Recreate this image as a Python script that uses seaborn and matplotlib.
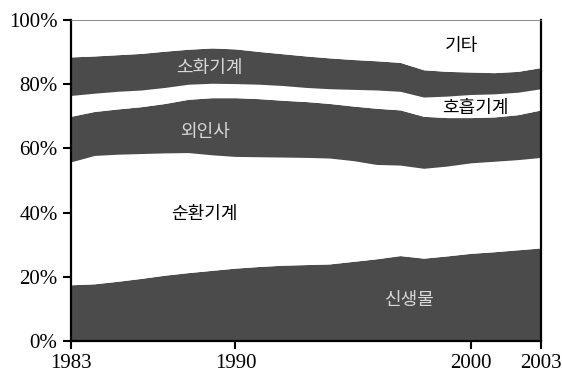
import numpy as np
import seaborn as sns
import matplotlib.pyplot as plt

sns.set_style("ticks")
plt.rcParams['font.family'] = ['Liberation Serif', 'Noto Sans CJK KR', 'DejaVu Sans']

years = list(range(1983, 2004))

# shares (%) by cause of death
neoplasm = [17.5, 17.8, 18.6, 19.5, 20.5, 21.3, 22.0, 22.7, 23.2, 23.6, 23.8,
            24.0, 24.8, 25.6, 26.6, 25.8, 26.5, 27.3, 27.8, 28.4, 29.0]
circulatory = [38.3, 40.0, 39.6, 38.9, 38.1, 37.4, 36.0, 34.8, 34.2, 33.7, 33.4,
               33.0, 31.4, 29.4, 28.2, 28.0, 28.0, 28.2, 28.2, 28.1, 28.2]
external = [14.2, 13.7, 14.1, 14.6, 15.4, 16.6, 17.8, 18.3, 18.1, 17.7, 17.4,
            17.0, 17.0, 17.5, 17.2, 16.2, 15.1, 14.1, 13.8, 14.0, 14.8]
respiratory = [6.5, 5.7, 5.5, 5.2, 5.0, 4.7, 4.5, 4.4, 4.5, 4.6, 4.4,
               4.6, 5.2, 5.7, 5.8, 6.0, 6.7, 7.2, 7.2, 7.0, 6.6]
digestive = [12.0, 11.6, 11.4, 11.4, 11.3, 10.9, 11.0, 10.8, 10.2, 9.9, 9.8,
             9.6, 9.3, 9.1, 9.0, 8.5, 7.7, 7.0, 6.6, 6.5, 6.6]
other = [11.5, 11.2, 10.8, 10.4, 9.7, 9.1, 8.7, 9.0, 9.8, 10.5, 11.2,
         11.8, 12.3, 12.7, 13.2, 15.5, 16.0, 16.2, 16.4, 16.0, 14.8]

labels = ['신생물', '순환기계', '외인사', '호흡기계', '소화기계', '기타']
dark = '#4b4b4b'
colors = [dark, 'white', dark, 'white', dark, 'white']

fig = plt.figure(figsize=(5.62, 3.78), dpi=100)
ax = fig.add_axes([0.126, 0.098, 0.837, 0.849])

ax.stackplot(years, neoplasm, circulatory, external, respiratory, digestive, other,
             colors=colors, labels=labels, linewidth=0)

# labels inside bands
kr = ['Noto Sans CJK KR', 'DejaVu Sans']
ax.text(1988.9, 85.0, '소화기계', family=kr, fontsize=13, color='#d8d8d8', ha='center', va='center')
ax.text(1988.7, 65.1, '외인사', family=kr, fontsize=13, color='#d8d8d8', ha='center', va='center')
ax.text(1988.7, 39.6, '순환기계', family=kr, fontsize=13, color='black', ha='center', va='center')
ax.text(1997.4, 12.8, '신생물', family=kr, fontsize=13, color='#d8d8d8', ha='center', va='center')
ax.text(1999.6, 91.8, '기타', family=kr, fontsize=13, color='black', ha='center', va='center')
ax.text(2000.2, 72.6, '호흡기계', family=kr, fontsize=13, color='black', ha='center', va='center')

ax.set_xlim(1983, 2003)
ax.set_ylim(0, 100)
ax.set_xticks([1983, 1990, 2000, 2003])
ax.set_yticks([0, 20, 40, 60, 80, 100])
ax.set_yticklabels([f'{v}%' for v in [0, 20, 40, 60, 80, 100]])
ax.tick_params(labelsize=15, width=1.5, length=6, direction='out', colors='black')

for s in ['left', 'bottom', 'right']:
    ax.spines[s].set_linewidth(1.6)
    ax.spines[s].set_color('black')
ax.spines['top'].set_linewidth(0.6)
ax.spines['top'].set_color('#777777')

fig.savefig('out.png', dpi=100)
